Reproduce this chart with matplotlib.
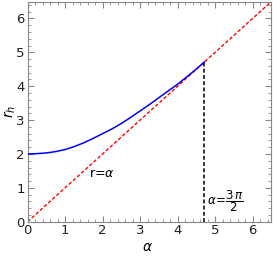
import numpy as np
import matplotlib.pyplot as plt
from matplotlib.ticker import MultipleLocator

# curve
alpha = [0.0, 0.25, 0.5, 0.75, 1.0, 1.25, 1.5, 1.75, 2.0, 2.25, 2.5, 2.75,
         3.0, 3.25, 3.5, 3.75, 4.0, 4.25, 4.5, 4.712]
r_h = [2.0, 2.01, 2.03, 2.07, 2.13, 2.22, 2.33, 2.46, 2.60, 2.74, 2.90, 3.08,
       3.27, 3.46, 3.66, 3.86, 4.06, 4.28, 4.51, 4.712]
line_x = [0.0, 6.5]
line_y = [0.0, 6.5]
alpha_c = 3 * np.pi / 2

fig = plt.figure(figsize=(2.73, 2.56), dpi=100)
ax = fig.add_axes([0.101, 0.134, 0.893, 0.86])

ax.plot(alpha, r_h, color='#0000ff', lw=1.1, zorder=3)
ax.plot(line_x, line_y, color='#ff0000', lw=1.0, ls=(0, (2.5, 1.5)), zorder=2)
ax.plot([alpha_c, alpha_c], [0, alpha_c], color='#333333', lw=1.4, ls=(0, (2, 1.2)), zorder=2)

ax.text(1.97, 1.43, r'r=$\alpha$', fontsize=9, ha='center', va='center')
ax.text(4.78, 0.62, r'$\alpha\!=\!\dfrac{3\,\pi}{2}$', fontsize=8.5, ha='left', va='center')

ax.set_xlim(0, 6.5)
ax.set_ylim(0, 6.5)
ax.xaxis.set_major_locator(MultipleLocator(1))
ax.yaxis.set_major_locator(MultipleLocator(1))
ax.xaxis.set_minor_locator(MultipleLocator(0.2))
ax.yaxis.set_minor_locator(MultipleLocator(0.2))
ax.tick_params(which='both', direction='in', top=True, right=True, color='#888888', labelsize=9.5, labelcolor='#222222')
ax.tick_params(which='major', length=4, width=0.8, pad=2)
ax.tick_params(which='minor', length=2, width=0.6)
for s in ax.spines.values():
    s.set_color('#888888')

ax.set_xlabel(r'$\alpha$', fontsize=10, va='center')
ax.set_ylabel(r'$r_h$', fontsize=10, va='center')
ax.xaxis.set_label_coords(0.49, -0.115)
ax.yaxis.set_label_coords(-0.072, 0.5)

fig.savefig('out.png', dpi=100)
